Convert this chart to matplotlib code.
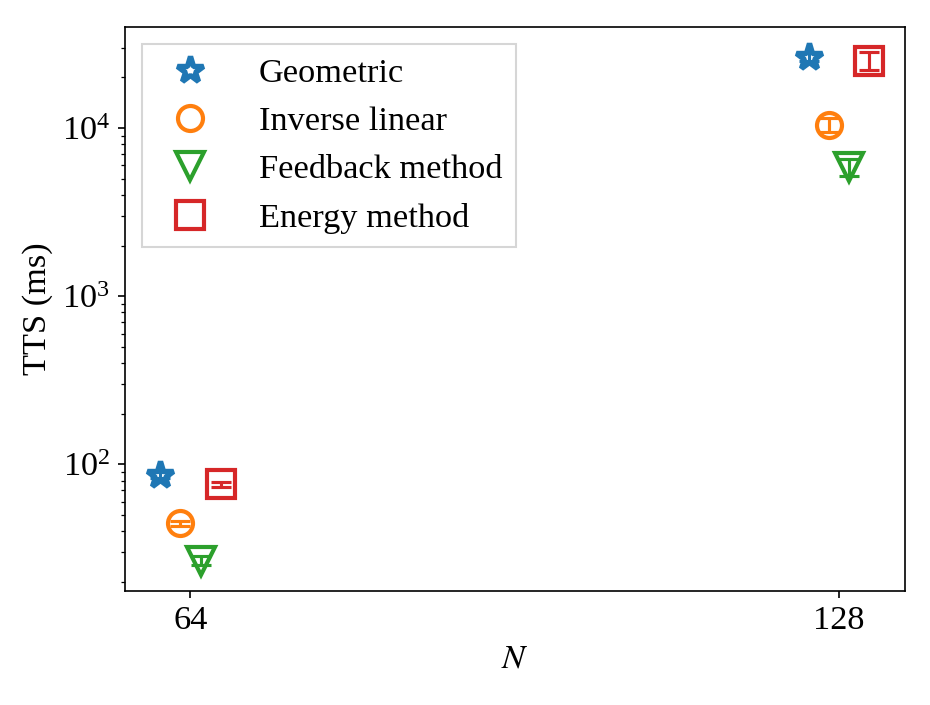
import numpy as np
import matplotlib
matplotlib.use('Agg')
import matplotlib.pyplot as plt

plt.rcParams['font.family'] = ['Liberation Serif', 'DejaVu Serif']
plt.rcParams['mathtext.fontset'] = 'stix'
plt.rcParams['font.size'] = 16.5

sizes = [64, 128]
methods = ['Geometric', 'Inverse linear', 'Feedback method', 'Energy method']
offsets = [-3, -1, 1, 3]
markers = ['*', 'o', 'v', 's']
msizes = [13, 12, 13, 13]
colors = ['tab:blue', 'tab:orange', 'tab:green', 'tab:red']

tts_geometric = [87, 26500]
tts_inverse = [44.6, 10400]
tts_feedback = [26.8, 5860]
tts_energy = [76, 25100]

err_geometric = [3.5, 1500]
err_inverse = [1.8, 1000]
err_feedback = [1.6, 680]
err_energy = [3.0, 3000]

tts = [tts_geometric, tts_inverse, tts_feedback, tts_energy]
errs = [err_geometric, err_inverse, err_feedback, err_energy]

fig = plt.figure(figsize=(6.2, 4.7), dpi=150)
ax = fig.add_axes([0.134, 0.162, 0.839, 0.8])

for name, off, m, s, c, y, e in zip(methods, offsets, markers, msizes, colors, tts, errs):
    x = np.array(sizes) + off
    ax.errorbar(x, y, yerr=e, fmt='none', ecolor=c, elinewidth=1.5, capsize=5, capthick=1.5)
    ax.plot(x, y, ls='none', marker=m, ms=s, mfc='none', mec=c,
            mew=2.6 if m == '*' else 2, label=name)

ax.set_yscale('log')
ax.set_xticks(sizes)
ax.set_xlabel('$N$')
ax.set_ylabel('TTS (ms)')
ax.legend(loc='upper left', fancybox=False, edgecolor='#cccccc', handlelength=2.0,
          handletextpad=1.0, borderpad=0.4, labelspacing=0.5, borderaxespad=0.5)

fig.savefig('out.png', dpi=150)
